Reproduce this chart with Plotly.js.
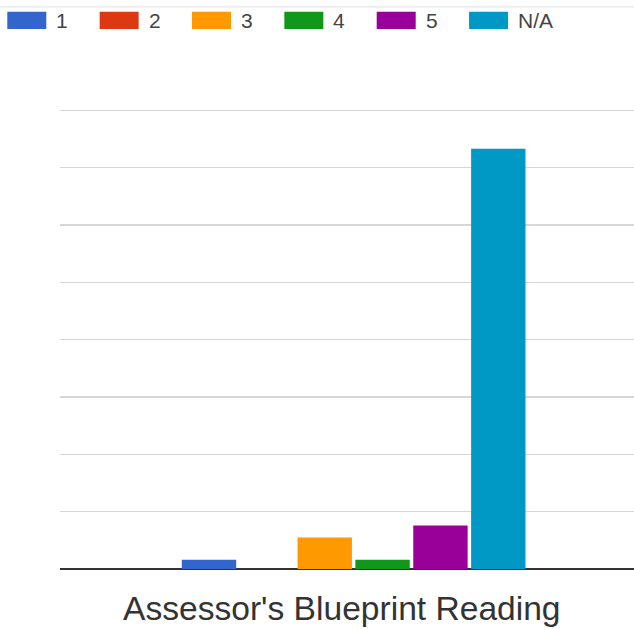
<!DOCTYPE html>
<html>
<head>
<meta charset="utf-8">
<script src="https://cdn.plot.ly/plotly-3.0.1.min.js"></script>
<style>
  html, body { margin: 0; padding: 0; background: #ffffff; }
  #chart { width: 634px; height: 629px; }
</style>
</head>
<body>
<div id="chart"></div>
<script>
// Data
var category = ["Assessor's Blueprint Reading"];
var seriesNames = ["1", "2", "3", "4", "5", "N/A"];
var seriesValues = [1.6, 0, 5.5, 1.6, 7.6, 73.3];
var seriesColors = ["#3366cc", "#dc3912", "#ff9900", "#109618", "#990099", "#0099c6"];
var yTickVals = [0, 10, 20, 30, 40, 50, 60, 70, 80];
var xTitle = "Assessor's Blueprint Reading";

// Layout geometry (pixels)
var W = 634, H = 629;
var mL = 60, mR = 0, mT = 108.3, mB = 60;
var plotW = W - mL - mR, plotH = H - mT - mB;
function px2paperX(px) { return (px - mL) / plotW; }
function px2paperY(py) { return (H - mB - py) / plotH; }

var traces = seriesNames.map(function (name, i) {
  return {
    type: 'bar',
    name: name,
    x: category,
    y: [seriesValues[i]],
    marker: { color: seriesColors[i], line: { width: 0 } },
    hoverinfo: 'name+y'
  };
});

// Custom legend built from the series arrays
var shapes = [];
var annotations = [];
var legX0 = 7.3, legStep = 92.35, legW = 39, legTop = 12, legBot = 29.3;
seriesNames.forEach(function (name, i) {
  var x0 = legX0 + legStep * i;
  shapes.push({
    type: 'rect', xref: 'paper', yref: 'paper',
    x0: px2paperX(x0), x1: px2paperX(x0 + legW),
    y0: px2paperY(legBot), y1: px2paperY(legTop),
    fillcolor: seriesColors[i], line: { width: 0 }
  });
  annotations.push({
    xref: 'paper', yref: 'paper',
    x: px2paperX(x0 + legW + 8), y: px2paperY((legTop + legBot) / 2 + 0.5),
    xanchor: 'left', yanchor: 'middle',
    text: name, showarrow: false,
    font: { family: 'Liberation Sans, Arial, sans-serif', size: 21, color: '#444444' }
  });
});
// Axis title placed under the plot
annotations.push({
  xref: 'paper', yref: 'paper',
  x: px2paperX(341.5), y: px2paperY(608),
  xanchor: 'center', yanchor: 'middle',
  text: xTitle, showarrow: false,
  font: { family: 'Liberation Sans, Arial, sans-serif', size: 33.6, color: '#333333' }
});
// Thin light line at the very top
shapes.push({
  type: 'line', xref: 'paper', yref: 'paper',
  x0: px2paperX(0), x1: px2paperX(W), y0: px2paperY(7), y1: px2paperY(7),
  line: { color: '#eeeeee', width: 2 }
});

var layout = {
  width: W, height: H,
  margin: { l: mL, r: mR, t: mT, b: mB, pad: 0 },
  paper_bgcolor: '#ffffff',
  plot_bgcolor: '#ffffff',
  showlegend: false,
  barmode: 'group',
  bargap: 0.4,
  bargroupgap: 0.06,
  font: { family: 'Liberation Sans, Arial, sans-serif', color: '#333333' },
  xaxis: {
    type: 'category',
    range: [-0.5075, 0.4845],
    showticklabels: false,
    ticks: '',
    showgrid: false,
    zeroline: false,
    showline: false
  },
  yaxis: {
    range: [0, 80.4],
    tickvals: yTickVals,
    showticklabels: false,
    ticks: '',
    showgrid: true,
    gridcolor: '#d6d6d6',
    gridwidth: 1.5,
    zeroline: true,
    zerolinecolor: '#333333',
    zerolinewidth: 2,
    showline: false
  },
  shapes: shapes,
  annotations: annotations
};

Plotly.newPlot('chart', traces, layout, { displayModeBar: false, staticPlot: true });
</script>
</body>
</html>
